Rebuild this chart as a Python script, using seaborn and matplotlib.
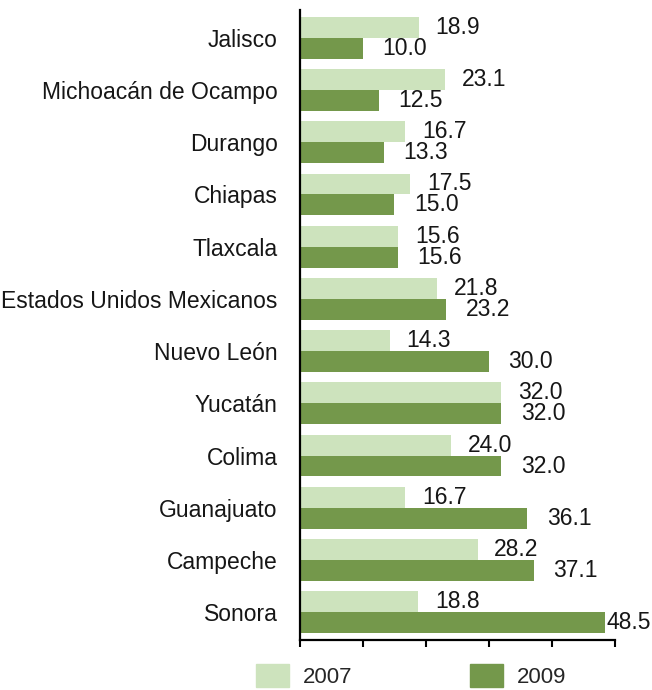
import pandas as pd
import numpy as np
import matplotlib
matplotlib.use('Agg')
import matplotlib.pyplot as plt
import seaborn as sns

states = ['Jalisco', 'Michoacán de Ocampo', 'Durango', 'Chiapas', 'Tlaxcala',
          'Estados Unidos Mexicanos', 'Nuevo León', 'Yucatán', 'Colima',
          'Guanajuato', 'Campeche', 'Sonora']
vals_2007 = [18.9, 23.1, 16.7, 17.5, 15.6, 21.8, 14.3, 32.0, 24.0, 16.7, 28.2, 18.8]
vals_2009 = [10.0, 12.5, 13.3, 15.0, 15.6, 23.2, 30.0, 32.0, 32.0, 36.1, 37.1, 48.5]
years = ['2007', '2009']

light = '#cde3bd'
dark = '#74984b'
txt = '#161616'

df = pd.DataFrame({
    'state': states * 2,
    'value': vals_2007 + vals_2009,
    'year': [years[0]] * len(states) + [years[1]] * len(states),
})

sns.set_style('white')
plt.rcParams['font.family'] = ['Liberation Sans', 'DejaVu Sans']

fig = plt.figure(figsize=(6.52, 6.9), dpi=100)
ax = fig.add_axes([0.460, 0.0725, 0.483, 0.913])

sns.barplot(data=df, y='state', x='value', hue='year', orient='h',
            palette=[light, dark], width=0.8, saturation=1, linewidth=0,
            order=states, hue_order=years, ax=ax, legend=False)

ax.set_xlim(0, 50)
ax.set_ylim(len(states) - 0.47, -0.53)
ax.set_xticks(np.arange(0, 51, 10))
ax.set_xticklabels([])
ax.set_xlabel('')
ax.set_ylabel('')
ax.tick_params(axis='y', length=0, pad=16, labelsize=16.5, labelcolor=txt)
ax.tick_params(axis='x', direction='out', length=5, width=1.5, color='black', bottom=True)
for side in ['top', 'right']:
    ax.spines[side].set_visible(False)
for side in ['left', 'bottom']:
    ax.spines[side].set_color('black')
    ax.spines[side].set_linewidth(1.6)

# value labels next to each bar (2009 sits a bit further out, as in the source)
for container, vals, base_off in zip(ax.containers, [vals_2007, vals_2009], [12, 14]):
    for bar, v in zip(container, vals):
        y = bar.get_y() + bar.get_height() / 2
        off = base_off if v < 44 else 1
        ax.annotate(f'{v:.1f}', xy=(bar.get_width(), y), xytext=(off, 0),
                    textcoords='offset points', ha='left', va='center',
                    fontsize=16.5, color=txt, annotation_clip=False)

handles = [plt.Rectangle((0, 0), 1, 1, color=c) for c in [light, dark]]
fig.legend(handles, years, loc='center', bbox_to_anchor=(0.63, 0.02),
           ncol=2, frameon=False, fontsize=16, handlelength=1.5,
           handleheight=1.2, handletextpad=0.6, columnspacing=5.3,
           borderpad=0.1)

fig.savefig('out.png', dpi=100)
